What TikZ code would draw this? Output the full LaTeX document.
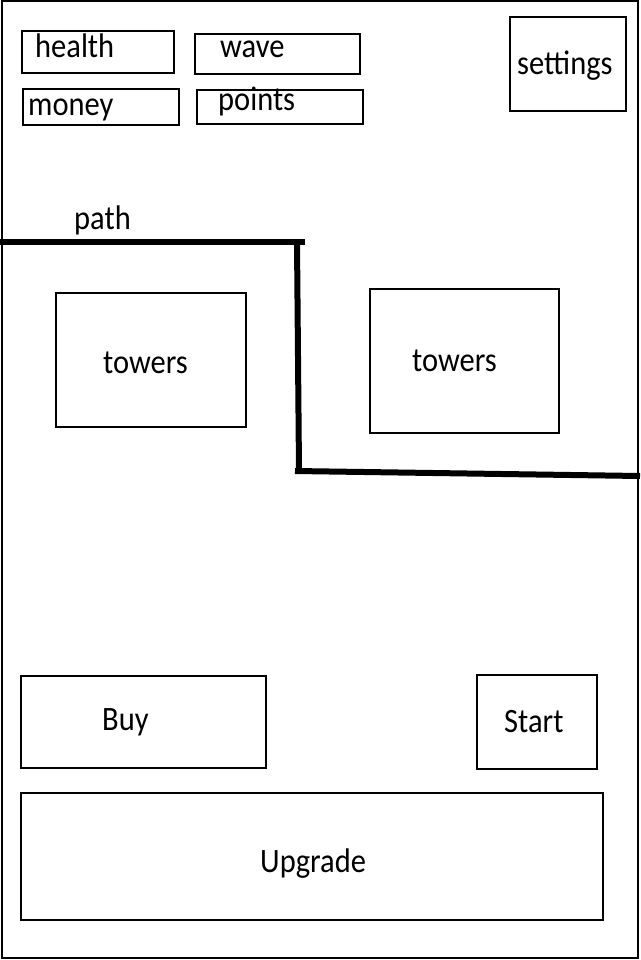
\documentclass[tikz,border=0pt]{standalone}
\usepackage{fontspec}
\setmainfont{Carlito}
\newcommand{\tallt}[1]{\scalebox{1}[1.12]{#1}}
\begin{document}
\begin{tikzpicture}[x=1pt,y=-1pt,
  box/.style={draw=black,line width=2pt,inner sep=0pt,anchor=north west},
  lbl/.style={inner sep=0pt,anchor=base west,font=\fontsize{30.5}{36}\selectfont},
  pathline/.style={line width=6pt,black}]
\useasboundingbox (0,0) rectangle (640,960);
\draw[line width=2pt] (2,1) rectangle (638,958);
% top boxes
\node[box,minimum width=152pt,minimum height=42pt] (hb) at (21,30) {};
\node[lbl] (ht) at (35,58) {\tallt{health}};
\node[box,minimum width=165pt,minimum height=40pt] (wb) at (194,33) {};
\node[lbl] (wt) at (220,58) {\tallt{wave}};
\node[box,minimum width=156pt,minimum height=36pt] (mb) at (22,88) {};
\node[lbl] (mt) at (28,116) {\tallt{money}};
\node[box,minimum width=166pt,minimum height=34pt] (pb) at (196,89) {};
\node[lbl] (pt) at (218,111) {\tallt{points}};
\node[box,minimum width=116pt,minimum height=94pt] (sb) at (509,16) {};
\node[lbl] (st) at (517,75) {\tallt{settings}};
% path
\node[lbl] (pl) at (74,229) {\tallt{path}};
\draw[pathline] (0,242) -- (305,242);
\draw[pathline] (297,242) -- (299,471);
\draw[pathline] (295,471) -- (640,476);
% towers
\node[box,minimum width=190pt,minimum height=134pt] (t1) at (55,292) {};
\node[lbl] (t1t) at (103,373) {\tallt{towers}};
\node[box,minimum width=189pt,minimum height=144pt] (t2) at (369,288) {};
\node[lbl] (t2t) at (412,371) {\tallt{towers}};
% bottom
\node[box,minimum width=245pt,minimum height=92pt] (bb) at (20,675) {};
\node[lbl] (bt) at (102,730) {\tallt{Buy}};
\node[box,minimum width=120pt,minimum height=94pt] (sbx) at (476,674) {};
\node[lbl] (stt) at (504,732) {\tallt{Start}};
\node[box,minimum width=582pt,minimum height=127pt] (ub) at (20,792) {};
\node[lbl] (ut) at (260,872) {\tallt{Upgrade}};
\end{tikzpicture}
\end{document}
